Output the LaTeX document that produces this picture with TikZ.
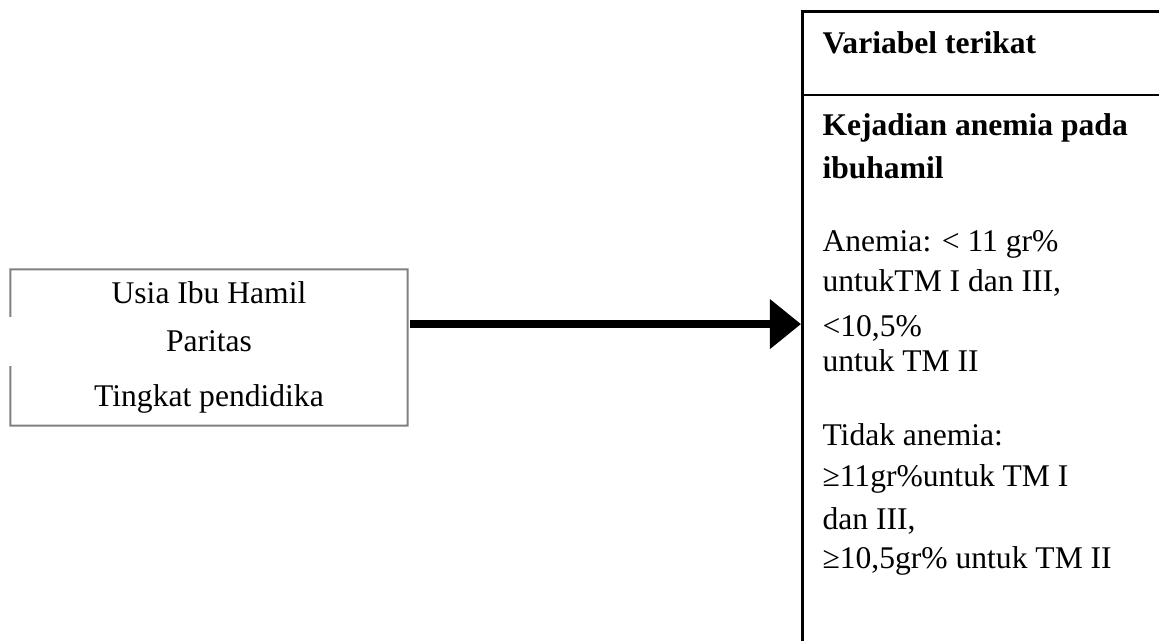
\documentclass[tikz,border=0pt]{standalone}
\usepackage{fontspec}
\setmainfont{Liberation Serif}
\usepackage{tikz}
\usetikzlibrary{arrows.meta, positioning, calc}

\begin{document}
\begin{tikzpicture}[
    x=0.38pt, y=-0.38pt,
    varbox/.style={rectangle, inner sep=0pt, minimum width=150.5pt, minimum height=58.9pt, align=center, font=\fontsize{12}{14}\selectfont},
    boxedge/.style={draw=black!50, line width=0.75pt},
    depbox/.style={rectangle, draw, line width=1pt, anchor=north west, minimum width=144pt, minimum height=247pt},
    deptext/.style={anchor=north west, inner sep=0pt, align=left, font=\fontsize{12}{14}\selectfont},
    bigarrow/.style={-{Triangle[length=11.8pt, width=18.2pt]}, line width=3pt},
]
\useasboundingbox (0,0) rectangle (1159,641);

% Independent variables
\node[varbox] (vars) at (209,347.5) {Usia Ibu Hamil\\[3.9pt]Paritas\\[6.9pt]Tingkat pendidika};
\draw[boxedge] ($(vars.north west)!0.303!(vars.south west)$) -- (vars.north west) -- (vars.north east)
    -- (vars.south east) -- (vars.south west) -- ($(vars.north west)!0.619!(vars.south west)$);

% Dependent variable
\node[depbox] (dep) at (801,10) {};
\coordinate (divL) at (801,95);
\draw[line width=1pt] (divL) -- (divL -| dep.east);

\node[deptext] (depTitle) at (822,31.5) {\textbf{Variabel terikat}};
\node[deptext] (depName) at (822,113.5) {\textbf{Kejadian anemia pada}\\[2.2pt]\textbf{ibuhamil}};
\node[deptext] (anemia) at (822,229.5) {Anemia: < 11 gr\%\\[1.5pt]untukTM I dan III,\\[3pt]<10,5\%\\[-0.8pt]untuk TM II};
\node[deptext] (normal) at (822,423.5) {Tidak anemia:\\[1.5pt]≥11gr\%untuk TM I\\[2.2pt]dan III,\\[0.7pt]≥10,5gr\% untuk TM II};

% Arrow
\coordinate (arrowStart) at ($(vars.north east)!0.35!(vars.south east)$);
\draw[bigarrow, shorten <=1pt] (arrowStart) -- (arrowStart -| dep.west);

\end{tikzpicture}
\end{document}
